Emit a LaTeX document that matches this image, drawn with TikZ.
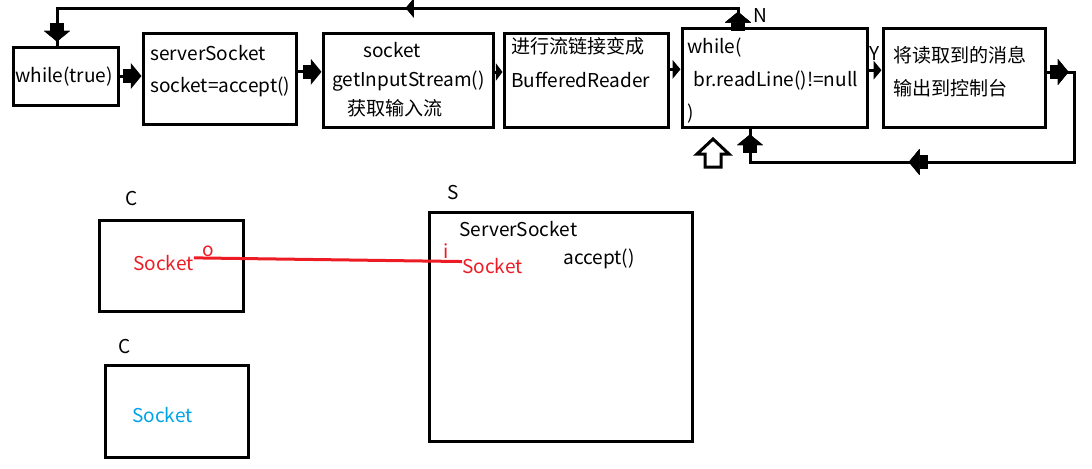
\documentclass[tikz,border=0pt]{standalone}
\usepackage{fontspec}
\setmainfont{Noto Sans CJK SC}
\usetikzlibrary{arrows.meta,positioning,decorations.markings}

\definecolor{paintred}{RGB}{237,28,36}
\definecolor{paintblue}{RGB}{0,162,232}

\tikzset{
  bigtip/.tip={Rectangle[length=6pt,width=11pt,sep=0pt] Triangle[length=8pt,width=19pt]},
  smalltip/.tip={Triangle[length=6pt,width=14pt]},
  box/.style={draw,line width=2.25pt,inner sep=0pt},
  flow/.style={line width=2.25pt},
  txt/.style={inner sep=0pt,anchor=base west,font=\fontsize{14.3}{16}\selectfont},
  redtxt/.style={txt,text=paintred},
  bluetxt/.style={txt,text=paintblue},
  link/.style={line width=2.25pt,paintred},
  markat/.style 2 args={postaction={decorate},decoration={markings,mark=at position #1 with {\arrow{#2}}}}
}

\begin{document}
\begin{tikzpicture}[x=0.75pt,y=-0.75pt]
  \useasboundingbox (0,0) rectangle (1092,468);
  % top row
  \node[box,minimum width=78.75pt,minimum height=43.5pt] (loop) at (65.5,76) {};
  \node[box,minimum width=114.75pt,minimum height=68.25pt] (accept) at (219.5,78.5) {};
  \node[box,minimum width=127.5pt,minimum height=70.5pt] (input) at (408,80) {};
  \node[box,minimum width=123pt,minimum height=70.5pt] (reader) at (586,80) {};
  \node[box,minimum width=138.75pt,minimum height=74.25pt] (readline) at (774.5,77.5) {};
  \node[box,minimum width=121.5pt,minimum height=74.25pt] (print) at (964,77.5) {};
  \node[txt] (t1) at (15,82) {while(true)};
  \node[txt] (t2a) at (150,60) {serverSocket};
  \node[txt] (t2b) at (150,92) {socket=accept()};
  \node[txt] (t3a) at (363,57) {socket};
  \node[txt] (t3b) at (332,86) {getInputStream()};
  \node[txt] (t3c) at (347,115) {获取输入流};
  \node[txt] (t4a) at (511,53) {进行流链接变成};
  \node[txt] (t4b) at (511,87) {BufferedReader};
  \node[txt] (t5a) at (687,53) {while(};
  \node[txt] (t5b) at (693,86) {br.readLine()!=null};
  \node[txt] (t5c) at (687,119) {)};
  \node[txt] (t6a) at (893,62) {将读取到的消息};
  \node[txt] (t6b) at (893,95) {输出到控制台};
  \node[txt] (no) at (753,22) {N};
  \node[txt] (yes) at (869,60) {Y};
  % arrows between boxes
  \draw[flow,-bigtip] (loop.east) -- (loop.east -| accept.west);
  \draw[flow,-bigtip] ([yshift=5pt]accept.east) -- ([yshift=5pt]accept.east -| input.west);
  \draw[flow,-{Triangle[length=5pt,width=13pt]}] ([yshift=6pt]input.east) -- ([yshift=6pt]input.east -| reader.west);
  \draw[flow,-smalltip] ([yshift=8pt]reader.east) -- ([yshift=8pt]reader.east -| readline.west);
  \draw[flow,-smalltip] ([yshift=5.5pt]readline.east) -- ([yshift=5.5pt]readline.east -| print.west);
  % loops
  \coordinate (topR) at (738,8);
  \coordinate (topL) at (57,8);
  \draw[flow,markat={11pt}{bigtip},markat={263pt}{smalltip},markat={-3pt}{bigtip}]
    (readline.north -| topR) -- (topR) -- (topL) -- (loop.north -| topL);
  \coordinate (outR) at (1074,72);
  \coordinate (botR) at (1074,162);
  \coordinate (botL) at (750,162);
  \draw[flow,markat={16.5pt}{bigtip},markat={212pt}{bigtip},markat={-4.5pt}{bigtip}]
    (print.east |- outR) -- (outR) -- (botR) -- (botL) -- (botL |- readline.south);
  \draw[flow,line join=miter] (713,139) -- (729,154) -- (721,154) -- (721,167)
    -- (705,167) -- (705,154) -- (697,154) -- cycle;
  % client and server
  \node[box,minimum width=108pt,minimum height=68.25pt] (client) at (171,265.5) {};
  \node[box,minimum width=197.25pt,minimum height=171.75pt] (server) at (560.5,326.5) {};
  \node[box,minimum width=107.25pt,minimum height=69pt] (client2) at (176.5,411) {};
  \node[txt] (cname) at (125,205) {C};
  \node[txt] (sname) at (447,199) {S};
  \node[txt] (cname2) at (118,353) {C};
  \node[redtxt] (csock) at (133,270) {Socket};
  \node[redtxt] (out) at (202,256) {o};
  \node[txt] (ssock) at (459,236) {ServerSocket};
  \node[redtxt] (in) at (443,258) {i};
  \node[redtxt] (sock) at (462,273) {Socket};
  \node[txt] (acc) at (563,264) {accept()};
  \node[bluetxt] (csock2) at (132,422) {Socket};
  \draw[link] ([yshift=3.5pt]csock.east) -- ([yshift=3pt]sock.west);
\end{tikzpicture}
\end{document}
